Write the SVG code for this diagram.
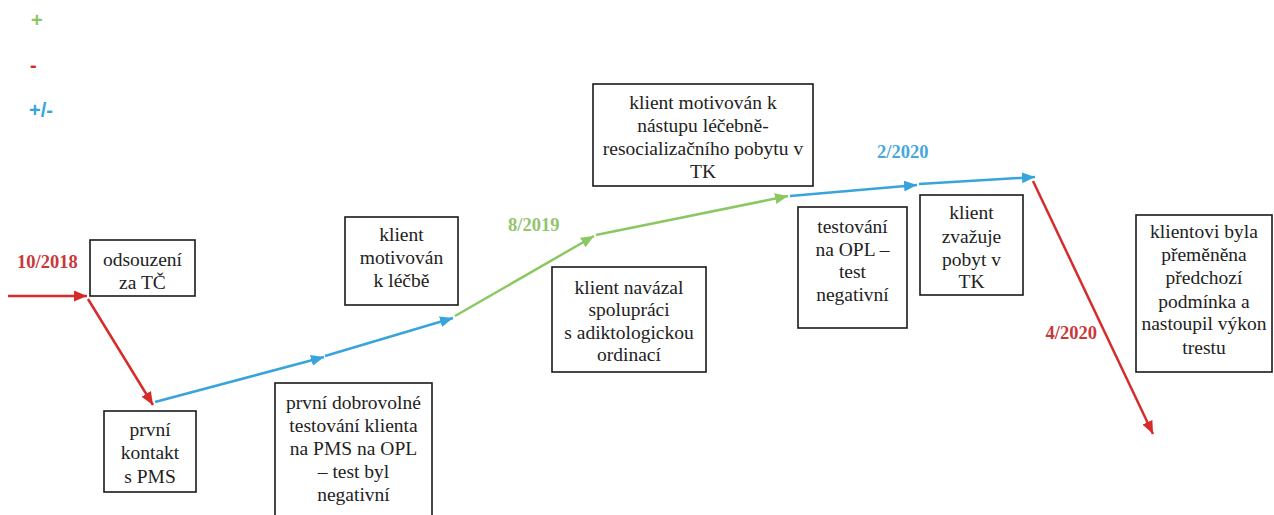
<svg xmlns="http://www.w3.org/2000/svg" width="1274" height="515" viewBox="0 0 1274 515">
<style>
.box{fill:#fff;stroke:#1a1a1a;stroke-width:1.6}
.r{stroke:#d62b2b;stroke-width:2.5;fill:none}
.g{stroke:#8cc862;stroke-width:2.5;fill:none}
.b{stroke:#38a4dc;stroke-width:2.5;fill:none}
</style>
<defs>
<marker id="ar" markerUnits="userSpaceOnUse" markerWidth="14" markerHeight="12" refX="13" refY="5.5" orient="auto"><path d="M0,0 L13,5.5 L0,11 z" fill="#d62b2b"/></marker>
<marker id="ag" markerUnits="userSpaceOnUse" markerWidth="14" markerHeight="12" refX="13" refY="5.5" orient="auto"><path d="M0,0 L13,5.5 L0,11 z" fill="#8cc862"/></marker>
<marker id="ab" markerUnits="userSpaceOnUse" markerWidth="14" markerHeight="12" refX="13" refY="5.5" orient="auto"><path d="M0,0 L13,5.5 L0,11 z" fill="#38a4dc"/></marker>
</defs>
<rect width="1274" height="515" fill="#fff"/>
<g id="legend" font-family="Liberation Sans" font-size="20" font-weight="bold">
<text x="31" y="27" fill="#8cc862" font-family="Liberation Sans">+</text>
<text x="30" y="72" fill="#d62b2b" font-family="Liberation Sans">-</text>
<text x="29" y="117" fill="#38a4dc" font-family="Liberation Sans">+/-</text>
</g>
<g id="dates" font-family="Liberation Serif" font-size="18.5" font-weight="bold">
<text x="17" y="268" fill="#c8383a" font-family="Liberation Serif">10/2018</text>
<text x="508" y="231" fill="#92c46e" font-family="Liberation Serif">8/2019</text>
<text x="877" y="158" fill="#46a8da" font-family="Liberation Serif">2/2020</text>
<text x="1097" y="339" fill="#c8383a" text-anchor="end" font-family="Liberation Serif">4/2020</text>
</g>
<g id="connectors">
<line class="r" x1="8" y1="296" x2="87" y2="296" marker-end="url(#ar)"/>
<line class="r" x1="88" y1="299" x2="153" y2="405" marker-end="url(#ar)"/>
<line class="b" x1="155" y1="402" x2="324" y2="357" marker-end="url(#ab)"/>
<line class="b" x1="325" y1="356" x2="453" y2="318" marker-end="url(#ab)"/>
<line class="g" x1="455" y1="316" x2="594" y2="236" marker-end="url(#ag)"/>
<line class="g" x1="596" y1="235" x2="788" y2="196" marker-end="url(#ag)"/>
<line class="b" x1="790" y1="196" x2="917" y2="185" marker-end="url(#ab)"/>
<line class="b" x1="919" y1="184" x2="1035" y2="177" marker-end="url(#ab)"/>
<line class="r" x1="1033" y1="181" x2="1153" y2="434" marker-end="url(#ar)"/>
</g>
<g id="nodes" font-family="Liberation Serif" font-size="19.5" fill="#222" text-anchor="middle">
<g id="n1"><rect class="box" x="90" y="240" width="105" height="56"/>
<text x="142.5" y="266" font-family="Liberation Serif">odsouzení</text><text x="142.5" y="289" font-family="Liberation Serif">za TČ</text></g>
<g id="n2"><rect class="box" x="104" y="411" width="92" height="81"/>
<text x="150" y="436" font-family="Liberation Serif">první</text><text x="150" y="459" font-family="Liberation Serif">kontakt</text><text x="150" y="483" font-family="Liberation Serif">s PMS</text></g>
<g id="n3"><rect class="box" x="275" y="383" width="157" height="140"/>
<text x="353.5" y="409" font-family="Liberation Serif">první dobrovolné</text><text x="353.5" y="432" font-family="Liberation Serif">testování klienta</text><text x="353.5" y="455" font-family="Liberation Serif">na PMS na OPL</text><text x="353.5" y="478" font-family="Liberation Serif">– test byl</text><text x="353.5" y="501" font-family="Liberation Serif">negativní</text></g>
<g id="n4"><rect class="box" x="345" y="217" width="113" height="88"/>
<text x="401.5" y="241" font-family="Liberation Serif">klient</text><text x="401.5" y="264" font-family="Liberation Serif">motivován</text><text x="401.5" y="287" font-family="Liberation Serif">k léčbě</text></g>
<g id="n5"><rect class="box" x="552" y="267" width="154" height="105"/>
<text x="629" y="294" font-family="Liberation Serif">klient navázal</text><text x="629" y="316" font-family="Liberation Serif">spolupráci</text><text x="629" y="339" font-family="Liberation Serif">s adiktologickou</text><text x="629" y="361" font-family="Liberation Serif">ordinací</text></g>
<g id="n6"><rect class="box" x="593" y="84" width="220" height="102"/>
<text x="703" y="109" font-family="Liberation Serif">klient motivován k</text><text x="703" y="132" font-family="Liberation Serif">nástupu léčebně-</text><text x="703" y="155" font-family="Liberation Serif">resocializačního pobytu v</text><text x="703" y="178" font-family="Liberation Serif">TK</text></g>
<g id="n7"><rect class="box" x="798" y="207" width="109" height="121"/>
<text x="852.5" y="233" font-family="Liberation Serif">testování</text><text x="852.5" y="256" font-family="Liberation Serif">na OPL –</text><text x="852.5" y="278" font-family="Liberation Serif">test</text><text x="852.5" y="301" font-family="Liberation Serif">negativní</text></g>
<g id="n8"><rect class="box" x="920" y="195" width="103" height="100"/>
<text x="971.5" y="219" font-family="Liberation Serif">klient</text><text x="971.5" y="243" font-family="Liberation Serif">zvažuje</text><text x="971.5" y="266" font-family="Liberation Serif">pobyt v</text><text x="971.5" y="288" font-family="Liberation Serif">TK</text></g>
<g id="n9"><rect class="box" x="1136" y="215" width="136" height="157"/>
<text x="1204" y="238" font-family="Liberation Serif">klientovi byla</text><text x="1204" y="261" font-family="Liberation Serif">přeměněna</text><text x="1204" y="284" font-family="Liberation Serif">předchozí</text><text x="1204" y="308" font-family="Liberation Serif">podmínka a</text><text x="1204" y="330" font-family="Liberation Serif">nastoupil výkon</text><text x="1204" y="354" font-family="Liberation Serif">trestu</text></g>
</g>
</svg>
